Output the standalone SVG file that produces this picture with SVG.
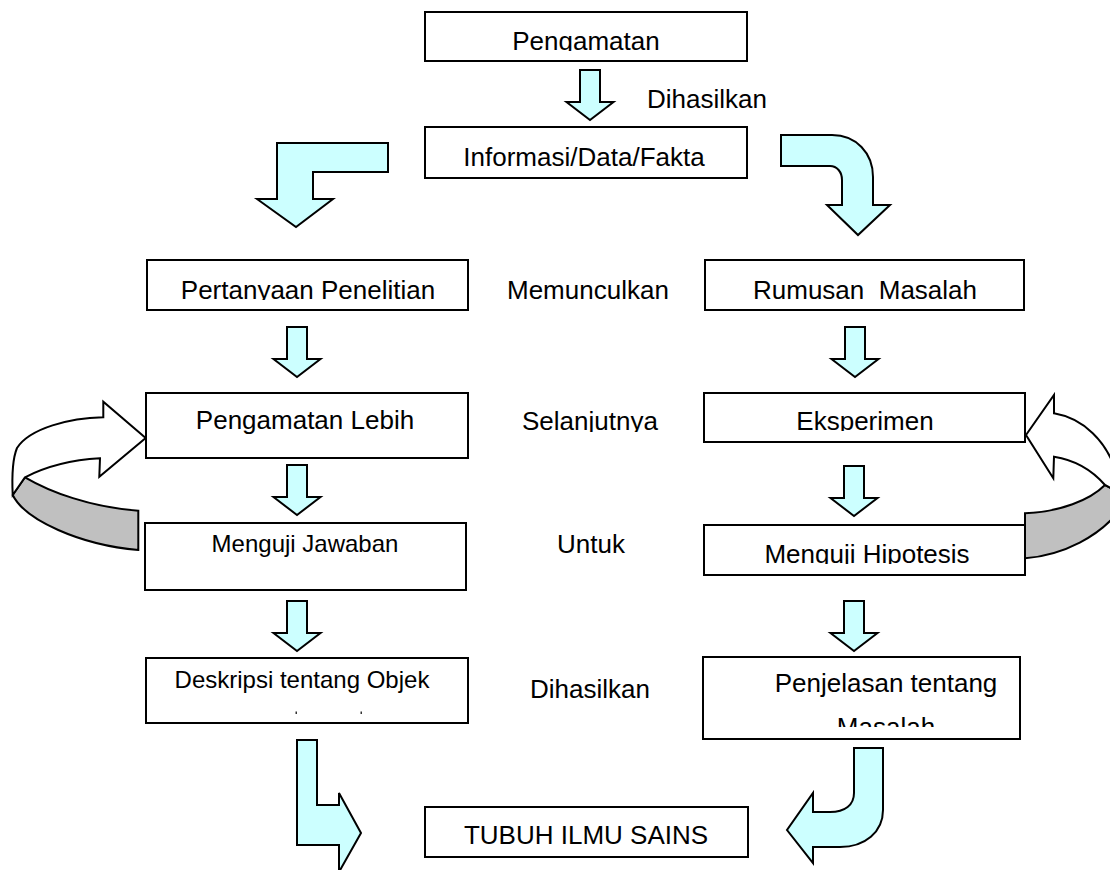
<svg xmlns="http://www.w3.org/2000/svg" xmlns:xlink="http://www.w3.org/1999/xlink" width="1110" height="870" viewBox="0 0 1110 870">
<style>
.box{fill:#fff;stroke:#000;stroke-width:2}
.arr{fill:#ccffff;stroke:#000;stroke-width:2;stroke-linejoin:miter}
.loopw{fill:#fff;stroke:#000;stroke-width:2;stroke-linejoin:miter}
.loopg{fill:#c0c0c0;stroke:#000;stroke-width:2}
text{font-family:"Liberation Sans",Arial,sans-serif;font-size:26px;fill:#000;white-space:pre}
.c{text-anchor:middle}
.s{font-size:24px}
</style>
<defs>
<path id="dn" d="M -10,0 H 10 V 32 H 23.5 L 0,50 L -23.5,32 H -10 Z"/>
<clipPath id="cp1"><rect x="420" y="0" width="330" height="51"/></clipPath>
<clipPath id="cp3"><rect x="140" y="250" width="330" height="50"/></clipPath>
<clipPath id="cp6"><rect x="700" y="390" width="330" height="41"/></clipPath>
<clipPath id="cp8"><rect x="700" y="520" width="330" height="44"/></clipPath>
<clipPath id="cp10"><rect x="700" y="700" width="330" height="27"/></clipPath>
<clipPath id="cpSel"><rect x="500" y="400" width="200" height="32"/></clipPath>
</defs>

<g id="connectors">
<use xlink:href="#dn" class="arr" transform="translate(590,70)"/>
<use xlink:href="#dn" class="arr" transform="translate(297,327)"/>
<use xlink:href="#dn" class="arr" transform="translate(297,465)"/>
<use xlink:href="#dn" class="arr" transform="translate(297,601)"/>
<use xlink:href="#dn" class="arr" transform="translate(855,327)"/>
<use xlink:href="#dn" class="arr" transform="translate(854,466)"/>
<use xlink:href="#dn" class="arr" transform="translate(854,601)"/>
<path class="arr" d="M 388,143 H 277 V 199 H 257 L 296,227 L 333,199 H 313 V 172 H 388 Z"/>
<path class="arr" d="M 781,135 H 832 C 856,135 873,153 873,177 V 205 H 890 L 858,235 L 827,205 H 842 V 180 C 842,172 837,166 830,166 H 781 Z"/>
<path class="arr" d="M 297,740 H 317 V 805 H 339 V 793 L 361,833 L 339,872 V 845 H 297 Z"/>
<path class="arr" d="M 854,748 H 883 V 810 C 883,832 865,847 840,847 H 813 V 863 L 787,830 L 813,793 V 812 H 830 C 845,812 854,805 854,793 Z"/>
<g id="loop-left">
<path class="loopg" d="M 25,477.3 C 50,492 90,507 138.3,510.7 L 138.3,550 C 80,545 25,520 12.7,495 Z"/>
<path class="loopw" d="M 145.7,438 L 103.3,401.7 L 103.3,417.3 C 70,418 30,428 17,448 C 12,460 12,480 12.7,495 L 25,477.3 C 45,467 70,460 100,458.3 L 99.3,476.7 Z"/>
</g>
<g id="loop-right">
<path class="loopg" d="M 1105,485 L 1118,492 L 1118,512 C 1100,535 1065,555 1025,558.3 L 1025,513.3 C 1060,512 1090,500 1105,485 Z"/>
<path class="loopw" d="M 1026,435 L 1054,395 L 1054,413.3 C 1082,418 1108,440 1118,478 L 1118,492 L 1105,485 C 1092,470 1075,460 1054,456.7 L 1053.3,478.3 Z"/>
</g>
</g>

<g id="n-pengamatan">
<rect class="box" x="425" y="12" width="322" height="49"/>
<text class="c" x="586" y="50" clip-path="url(#cp1)">Pengamatan</text>
</g>
<g id="l-dihasilkan1"><text x="647" y="108">Dihasilkan</text></g>
<g id="n-informasi">
<rect class="box" x="425" y="127" width="322" height="51"/>
<text class="c" x="584" y="166">Informasi/Data/Fakta</text>
</g>
<g id="n-pertanyaan">
<rect class="box" x="147" y="260" width="321" height="50"/>
<text class="c" x="308" y="299" clip-path="url(#cp3)">Pertanyaan Penelitian</text>
</g>
<g id="l-memunculkan"><text x="507" y="299">Memunculkan</text></g>
<g id="n-rumusan">
<rect class="box" x="705" y="260" width="319" height="50"/>
<text class="c" x="865" y="299">Rumusan  Masalah</text>
</g>
<g id="n-pengamatan-lebih">
<rect class="box" x="146" y="393" width="322" height="65"/>
<text class="c" x="305" y="429">Pengamatan Lebih</text>
</g>
<g id="l-selanjutnya"><text x="522" y="430" clip-path="url(#cpSel)">Selanjutnya</text></g>
<g id="n-eksperimen">
<rect class="box" x="704" y="393" width="321" height="49"/>
<text class="c" x="865" y="430" clip-path="url(#cp6)">Eksperimen</text>
</g>
<g id="n-menguji-jawaban">
<rect class="box" x="145" y="523" width="321" height="67"/>
<text class="c s" x="305" y="552">Menguji Jawaban</text>
</g>
<g id="l-untuk"><text x="557" y="553">Untuk</text></g>
<g id="n-menguji-hipotesis">
<rect class="box" x="704" y="525" width="321" height="50"/>
<text class="c" x="867" y="563" clip-path="url(#cp8)">Menguji Hipotesis</text>
</g>
<g id="n-deskripsi">
<rect class="box" x="146" y="658" width="322" height="65"/>
<text class="c s" x="302" y="688">Deskripsi tentang Objek</text>
<rect x="295.5" y="711.5" width="1.5" height="2.5" fill="#333"/>
<rect x="360.5" y="711.5" width="1.5" height="2.5" fill="#333"/>
</g>
<g id="l-dihasilkan2"><text x="530" y="698">Dihasilkan</text></g>
<g id="n-penjelasan">
<rect class="box" x="703" y="657" width="317" height="82"/>
<text class="c" x="886" y="692">Penjelasan tentang</text>
<text class="c" x="886" y="736" clip-path="url(#cp10)">Masalah</text>
</g>
<g id="n-tubuh">
<rect class="box" x="425" y="807" width="323" height="50"/>
<text class="c" x="586" y="844">TUBUH ILMU SAINS</text>
</g>
</svg>
